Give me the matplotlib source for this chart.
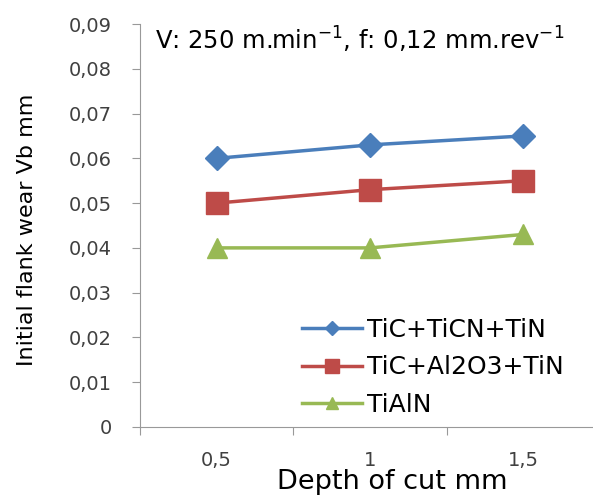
import matplotlib.pyplot as plt
from matplotlib.ticker import FuncFormatter

plt.rcParams['font.family'] = ['DejaVu Sans']
plt.rcParams['mathtext.default'] = 'regular'

# data
depth = ['0,5', '1', '1,5']
ticn = [0.060, 0.063, 0.065]
al2o3 = [0.050, 0.053, 0.055]
tialn = [0.040, 0.040, 0.043]
names = ['TiC+TiCN+TiN', 'TiC+Al2O3+TiN', 'TiAlN']
colors = ['#4a7ebb', '#be4b48', '#98b954']
markers = ['D', 's', '^']
msizes = [12, 16, 14]

W, H = 593, 497
fig = plt.figure(figsize=(W / 100, H / 100), dpi=100)
# plot area runs past the right edge like in the original
ax = fig.add_axes([140 / W, (H - 427) / H, (600 - 140) / W, (427 - 24) / H])

x = range(len(depth))
for vals, nm, c, m, ms in zip([ticn, al2o3, tialn], names, colors, markers, msizes):
    ax.plot(x, vals, color=c, lw=2.5, marker=m, ms=ms, label=nm)

ax.set_xlim(-0.5, 2.5)
ax.set_ylim(0, 0.09)
ax.set_yticks([i / 100 for i in range(10)])
ax.yaxis.set_major_formatter(FuncFormatter(
    lambda v, p: '0' if abs(v) < 1e-9 else f'{v:.2f}'.replace('.', ',')))
ax.set_xticks([-0.5, 0.5, 1.5, 2.5])
ax.set_xticklabels([])
for i, lab in enumerate(depth):
    ax.text(i, -0.0075, lab, ha='center', va='center', fontsize=14, color='#404040')

for s in ['top', 'right']:
    ax.spines[s].set_visible(False)
for s in ['left', 'bottom']:
    ax.spines[s].set_color('#999999')
ax.tick_params(axis='both', color='#999999', length=6, labelsize=14, labelcolor='#404040')
ax.tick_params(axis='y', pad=14)

fig.text(27 / W, 1 - 230 / H, 'Initial flank wear Vb mm', rotation=90,
         ha='center', va='center', fontsize=16)
fig.text(392 / W, 1 - 482 / H, 'Depth of cut mm', ha='center', va='center', fontsize=19.5)
fig.text(155 / W, 1 - 40 / H, 'V: 250 m.min$^{-1}$, f: 0,12 mm.rev$^{-1}$',
         ha='left', va='center', fontsize=17.5)

ax.legend(loc='upper left', bbox_to_anchor=(302 / W, 1 - 318 / H),
          bbox_transform=fig.transFigure, frameon=False, fontsize=18,
          markerscale=0.6, handlelength=2.4, handletextpad=0.2,
          labelspacing=0.53, borderaxespad=0, borderpad=0)

fig.savefig('out.png', dpi=100)
